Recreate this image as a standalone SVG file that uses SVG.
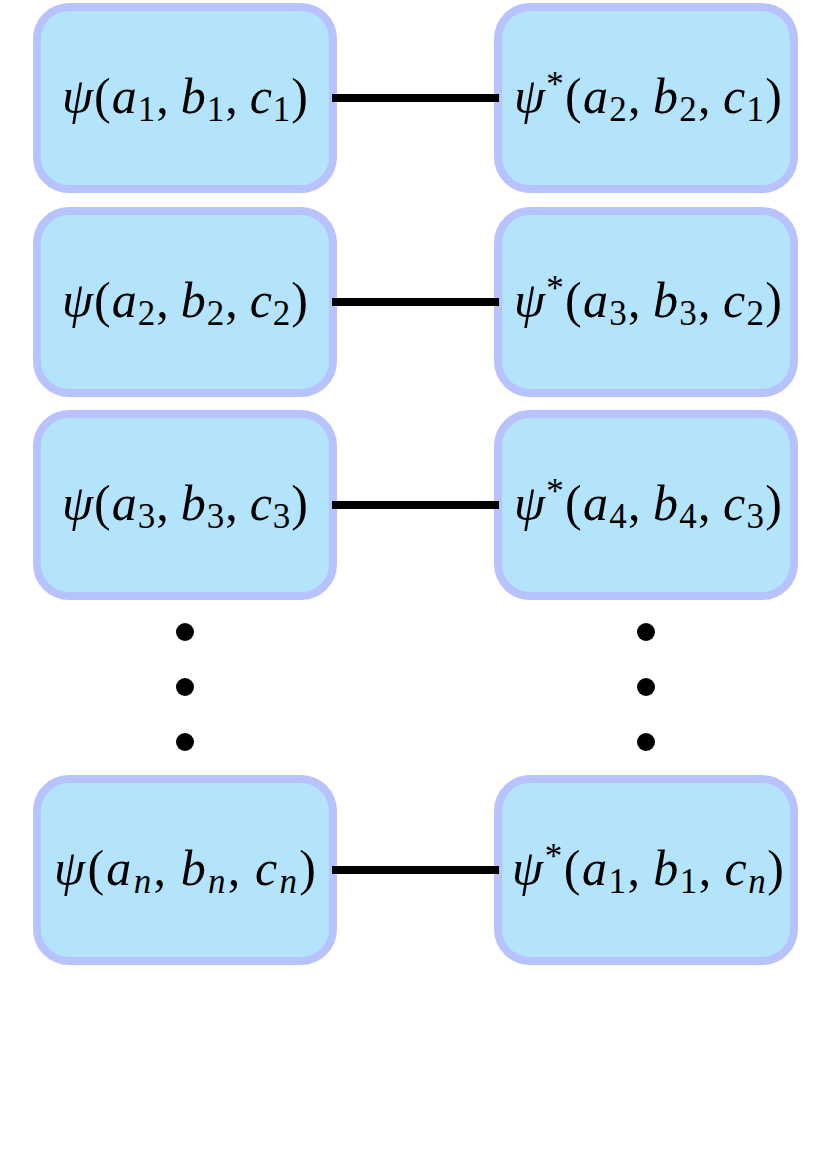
<svg xmlns="http://www.w3.org/2000/svg" width="830" height="1163" viewBox="0 0 830 1163">
<style>
.box{fill:#b3e4fc;stroke:#b8c3fd;stroke-width:8}
.m{font-family:"Liberation Serif","DejaVu Serif",serif;font-size:50px;fill:#000;text-anchor:middle}
.i{font-style:italic}
.s{font-size:35px;font-style:normal}
.s.i{font-style:italic}
.conn line{stroke:#000;stroke-width:8}
.dot{fill:#000}
</style>
<rect width="830" height="1163" fill="#fff"/>
<g id="L1"><rect class="box" x="37" y="7" width="296" height="182" rx="32"/>
<text class="m" x="185" y="113" textLength="246" lengthAdjust="spacing"><tspan class="i">ψ</tspan>(<tspan class="i">a</tspan><tspan class="s" dy="8">1</tspan><tspan dy="-8">,&#8201;</tspan><tspan class="i">b</tspan><tspan class="s" dy="8">1</tspan><tspan dy="-8">,&#8201;</tspan><tspan class="i">c</tspan><tspan class="s" dy="8">1</tspan><tspan dy="-8">)</tspan></text></g>
<g id="R1"><rect class="box" x="498" y="7" width="296" height="182" rx="32"/>
<text class="m" x="648" y="113" textLength="268" lengthAdjust="spacing"><tspan class="i">ψ</tspan><tspan class="s" dy="-17">*</tspan><tspan dy="17">(</tspan><tspan class="i">a</tspan><tspan class="s" dy="8">2</tspan><tspan dy="-8">,&#8201;</tspan><tspan class="i">b</tspan><tspan class="s" dy="8">2</tspan><tspan dy="-8">,&#8201;</tspan><tspan class="i">c</tspan><tspan class="s" dy="8">1</tspan><tspan dy="-8">)</tspan></text></g>
<g id="L2"><rect class="box" x="37" y="211" width="296" height="182" rx="32"/>
<text class="m" x="185" y="317" textLength="246" lengthAdjust="spacing"><tspan class="i">ψ</tspan>(<tspan class="i">a</tspan><tspan class="s" dy="8">2</tspan><tspan dy="-8">,&#8201;</tspan><tspan class="i">b</tspan><tspan class="s" dy="8">2</tspan><tspan dy="-8">,&#8201;</tspan><tspan class="i">c</tspan><tspan class="s" dy="8">2</tspan><tspan dy="-8">)</tspan></text></g>
<g id="R2"><rect class="box" x="498" y="211" width="296" height="182" rx="32"/>
<text class="m" x="648" y="317" textLength="268" lengthAdjust="spacing"><tspan class="i">ψ</tspan><tspan class="s" dy="-17">*</tspan><tspan dy="17">(</tspan><tspan class="i">a</tspan><tspan class="s" dy="8">3</tspan><tspan dy="-8">,&#8201;</tspan><tspan class="i">b</tspan><tspan class="s" dy="8">3</tspan><tspan dy="-8">,&#8201;</tspan><tspan class="i">c</tspan><tspan class="s" dy="8">2</tspan><tspan dy="-8">)</tspan></text></g>
<g id="L3"><rect class="box" x="37" y="414" width="296" height="182" rx="32"/>
<text class="m" x="185" y="520" textLength="246" lengthAdjust="spacing"><tspan class="i">ψ</tspan>(<tspan class="i">a</tspan><tspan class="s" dy="8">3</tspan><tspan dy="-8">,&#8201;</tspan><tspan class="i">b</tspan><tspan class="s" dy="8">3</tspan><tspan dy="-8">,&#8201;</tspan><tspan class="i">c</tspan><tspan class="s" dy="8">3</tspan><tspan dy="-8">)</tspan></text></g>
<g id="R3"><rect class="box" x="498" y="414" width="296" height="182" rx="32"/>
<text class="m" x="648" y="520" textLength="268" lengthAdjust="spacing"><tspan class="i">ψ</tspan><tspan class="s" dy="-17">*</tspan><tspan dy="17">(</tspan><tspan class="i">a</tspan><tspan class="s" dy="8">4</tspan><tspan dy="-8">,&#8201;</tspan><tspan class="i">b</tspan><tspan class="s" dy="8">4</tspan><tspan dy="-8">,&#8201;</tspan><tspan class="i">c</tspan><tspan class="s" dy="8">3</tspan><tspan dy="-8">)</tspan></text></g>
<g id="Ln"><rect class="box" x="37" y="779" width="296" height="182" rx="32"/>
<text class="m" x="185" y="885" textLength="262" lengthAdjust="spacing"><tspan class="i">ψ</tspan>(<tspan class="i">a</tspan><tspan class="s i" dy="8">n</tspan><tspan dy="-8">,&#8201;</tspan><tspan class="i">b</tspan><tspan class="s i" dy="8">n</tspan><tspan dy="-8">,&#8201;</tspan><tspan class="i">c</tspan><tspan class="s i" dy="8">n</tspan><tspan dy="-8">)</tspan></text></g>
<g id="Rn"><rect class="box" x="498" y="779" width="296" height="182" rx="32"/>
<text class="m" x="648" y="885" textLength="272" lengthAdjust="spacing"><tspan class="i">ψ</tspan><tspan class="s" dy="-17">*</tspan><tspan dy="17">(</tspan><tspan class="i">a</tspan><tspan class="s" dy="8">1</tspan><tspan dy="-8">,&#8201;</tspan><tspan class="i">b</tspan><tspan class="s" dy="8">1</tspan><tspan dy="-8">,&#8201;</tspan><tspan class="i">c</tspan><tspan class="s i" dy="8">n</tspan><tspan dy="-8">)</tspan></text></g>
<g id="dotsL"><circle class="dot" cx="185" cy="632" r="9"/><circle class="dot" cx="185" cy="687" r="9"/><circle class="dot" cx="185" cy="742" r="9"/></g>
<g id="dotsR"><circle class="dot" cx="646" cy="632" r="9"/><circle class="dot" cx="646" cy="687" r="9"/><circle class="dot" cx="646" cy="742" r="9"/></g>
<g id="connectors" class="conn">
<line x1="332" y1="98" x2="499" y2="98"/>
<line x1="332" y1="302" x2="499" y2="302"/>
<line x1="332" y1="505" x2="499" y2="505"/>
<line x1="332" y1="870" x2="499" y2="870"/>
</g>
</svg>
